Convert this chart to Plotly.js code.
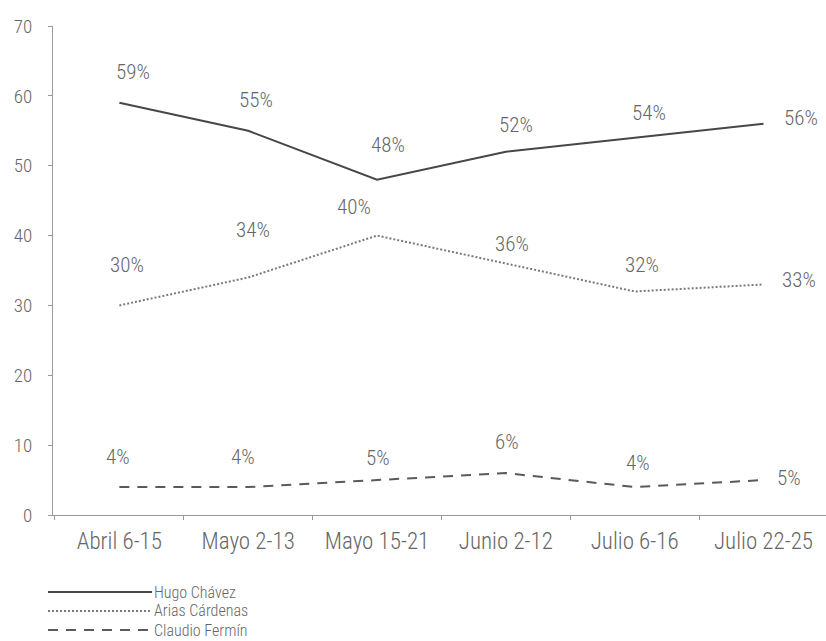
<!DOCTYPE html>
<html>
<head>
<meta charset="utf-8">
<script src="https://cdn.plot.ly/plotly-3.0.1.min.js"></script>
<style>html,body{margin:0;padding:0;background:#fff;}</style>
</head>
<body>
<div id="chart" style="width:826px;height:641px;"></div>
<script>
var categories = ["Abril 6-15", "Mayo 2-13", "Mayo 15-21", "Junio 2-12", "Julio 6-16", "Julio 22-25"];
var seriesNames = ["Hugo Chávez", "Arias Cárdenas", "Claudio Fermín"];
var chavez = [59, 55, 48, 52, 54, 56];
var arias = [30, 34, 40, 36, 32, 33];
var fermin = [4, 4, 5, 6, 4, 5];
var yTicks = [0, 10, 20, 30, 40, 50, 60, 70];

var seriesValues = [chavez, arias, fermin];
var FAM = "Roboto Condensed, Liberation Sans, sans-serif";
var lineStyles = [
  {color: "#474747", width: 2, dash: "solid"},
  {color: "#7a7a7a", width: 2, dash: "2px,2px"},
  {color: "#5a5a5a", width: 2, dash: "10px,8px"}
];
// label offsets (pixels) per series/point
var labelShifts = [
  [[14,31],[8,31],[11,35],[10,27],[14,25],[37,6]],
  [[8,40],[5,47],[-23,29],[6,20],[7,26],[35,4]],
  [[-1,30],[-5,30],[1,22],[1,31],[3,24],[25,2]]
];

var textFont = {family: FAM, size: 21, color: "#666", weight: 300};

var traces = seriesValues.map(function (vals, s) {
  return {
    type: "scatter", mode: "lines", x: categories, y: vals,
    name: seriesNames[s], line: lineStyles[s], showlegend: false, hoverinfo: "skip"
  };
});

var annotations = [];
seriesValues.forEach(function (vals, s) {
  vals.forEach(function (v, i) {
    annotations.push({
      x: categories[i], y: v, xref: "x", yref: "y", text: v + "%",
      showarrow: false, xshift: labelShifts[s][i][0], yshift: labelShifts[s][i][1],
      font: textFont
    });
  });
});

// custom legend
var legendRowsY = [-0.1575, -0.1963, -0.2352];
var shapes = [];
seriesNames.forEach(function (n, s) {
  shapes.push({
    type: "line", xref: "paper", yref: "paper",
    x0: -0.0065, x1: 0.128, y0: legendRowsY[s], y1: legendRowsY[s],
    line: lineStyles[s]
  });
  annotations.push({
    xref: "paper", yref: "paper", x: 0.130, y: legendRowsY[s],
    xanchor: "left", yanchor: "middle", text: n, showarrow: false, borderpad: 0,
    font: {family: FAM, size: 16, color: "#666", weight: 300}
  });
});

var layout = {
  width: 826, height: 641,
  margin: {l: 53, r: 0, t: 26, b: 126},
  paper_bgcolor: "#ffffff", plot_bgcolor: "#ffffff",
  showlegend: false,
  xaxis: {
    type: "category", range: [-0.515, 5.485], showgrid: false, zeroline: false,
    showline: true, linecolor: "#999", linewidth: 1,
    ticks: "outside", ticklen: 4, tickcolor: "#999", tickson: "boundaries",
    tickfont: {family: FAM, size: 23, color: "#666", weight: 300},
    ticklabelstandoff: 5,
    fixedrange: true
  },
  yaxis: {
    range: [0, 70], tickvals: yTicks, ticktext: yTicks.map(String),
    showgrid: false, zeroline: false, showline: true, linecolor: "#999", linewidth: 1,
    ticks: "outside", ticklen: 4, tickcolor: "#999",
    tickfont: {family: FAM, size: 19, color: "#666", weight: 300},
    ticklabelstandoff: 12,
    fixedrange: true
  },
  annotations: annotations,
  shapes: shapes
};

Plotly.newPlot("chart", traces, layout, {staticPlot: true, displayModeBar: false});
</script>
</body>
</html>
